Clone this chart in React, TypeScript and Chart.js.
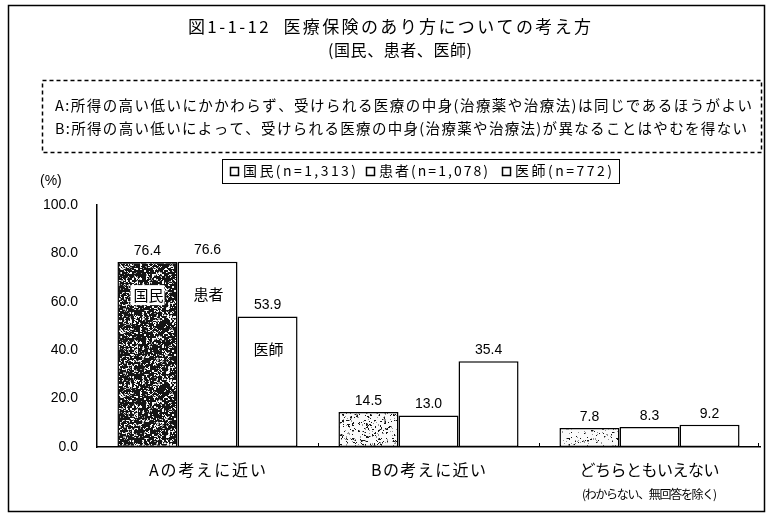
import React, { useEffect, useRef } from "react";
import { Chart, registerables } from "chart.js";

Chart.register(...registerables);

// ---- data ----
const categories = ["Aの考えに近い", "Bの考えに近い", "どちらともいえない"];
const categoryNotes = ["", "", "(わからない、無回答を除く)"];
const seriesNames = ["国民", "患者", "医師"];
const sampleSizes = [1313, 1078, 772];
const kokuminValues = [76.4, 14.5, 7.8];
const kanjaValues = [76.6, 13.0, 8.3];
const ishiValues = [53.9, 35.4, 9.2];
const yTicks = [0, 20, 40, 60, 80, 100];

const titleLines = ["図1-1-12  医療保険のあり方についての考え方", "(国民、患者、医師)"];
const definitionLines = [
  "A:所得の高い低いにかかわらず、受けられる医療の中身(治療薬や治療法)は同じであるほうがよい",
  "B:所得の高い低いによって、受けられる医療の中身(治療薬や治療法)が異なることはやむを得ない",
];

// ---- styling ----
const JP = '"Noto Sans CJK JP", "Noto Sans", sans-serif';
const NUM = '"Liberation Sans", Arial, sans-serif';
const W = 767;
const H = 514;
const categoryLabelWidths = [117, 115, 140];
const noteWidth = 135;

function hash(x: number, y: number, seed: number): number {
  let h = (Math.imul(x, 374761393) + Math.imul(y, 668265263) + Math.imul(seed, 144665)) | 0;
  h = Math.imul(h ^ (h >>> 13), 1274126177);
  h ^= h >>> 16;
  return (h >>> 0) / 4294967296;
}

// speckled print-style fill
function stipple(density: number, seed: number): CanvasPattern | string {
  const size = 64;
  const c = document.createElement("canvas");
  c.width = size;
  c.height = size;
  const g = c.getContext("2d");
  if (!g) return "#888";
  const img = g.createImageData(size, size);
  for (let y = 0; y < size; y++) {
    for (let x = 0; x < size; x++) {
      const fine = hash(x, y, seed);
      const coarse = hash(x >> 1, y >> 1, seed + 11);
      const t = fine * 0.45 + coarse * 0.55;
      const v = t < density ? 20 : t < density + 0.08 ? 150 : 250;
      const i = (y * size + x) * 4;
      img.data[i] = v;
      img.data[i + 1] = v;
      img.data[i + 2] = v;
      img.data[i + 3] = 255;
    }
  }
  g.putImageData(img, 0, 0);
  const p = g.createPattern(c, "repeat");
  return p || "#888";
}

// draws text spread or squeezed to a given width
function fitText(ctx: CanvasRenderingContext2D, text: string, x: number, y: number, width: number, font: string) {
  ctx.font = font;
  ctx.textAlign = "left";
  ctx.textBaseline = "middle";
  const chars = Array.from(text);
  const widths = chars.map((ch) => ctx.measureText(ch).width);
  const total = widths.reduce((a, b) => a + b, 0);
  const gap = chars.length > 1 ? (width - total) / (chars.length - 1) : 0;
  let cx = x;
  chars.forEach((ch, i) => {
    ctx.fillText(ch, cx, y);
    cx += widths[i] + gap;
  });
}

const decorations = {
  id: "decorations",
  afterDraw(chart: any) {
    const ctx: CanvasRenderingContext2D = chart.ctx;
    const { chartArea } = chart;
    const xScale = chart.scales.x;
    ctx.save();
    ctx.fillStyle = "#000";
    ctx.strokeStyle = "#000";

    // outer frame
    ctx.lineWidth = 1.5;
    ctx.setLineDash([]);
    ctx.strokeRect(8.5, 5.5, 756, 506);

    // title
    fitText(ctx, titleLines[0], 188, 27, 403, `17px ${JP}`);
    fitText(ctx, titleLines[1], 328, 50, 144, `16px ${JP}`);

    // definition box
    ctx.lineWidth = 1.5;
    ctx.setLineDash([4, 3]);
    ctx.strokeRect(42.5, 80.5, 719, 72);
    ctx.setLineDash([]);
    fitText(ctx, definitionLines[0], 55, 105, 697, `14.5px ${JP}`);
    fitText(ctx, definitionLines[1], 55, 128, 692, `14.5px ${JP}`);

    // legend
    ctx.lineWidth = 1;
    ctx.strokeRect(222.5, 159.5, 397, 24);
    const legendX = [230, 366, 502];
    const legendW = [113, 109, 97];
    seriesNames.forEach((name, i) => {
      ctx.lineWidth = 1.5;
      ctx.fillStyle = "#fff";
      ctx.fillRect(legendX[i] + 0.5, 167.5, 8, 8);
      ctx.strokeRect(legendX[i] + 0.5, 167.5, 8, 8);
      ctx.fillStyle = "#000";
      const label = `${name}(n=${sampleSizes[i].toLocaleString("en-US")})`;
      fitText(ctx, label, legendX[i] + 13, 171, legendW[i], `14px ${JP}`);
    });

    // unit label
    ctx.font = `14px ${NUM}`;
    ctx.textAlign = "left";
    ctx.textBaseline = "middle";
    ctx.fillText("(%)", 40, 181);

    // category labels
    categories.forEach((cat, i) => {
      const cx = xScale.getPixelForValue(i);
      const w = categoryLabelWidths[i];
      fitText(ctx, cat, cx - w / 2, 470, w, `16px ${JP}`);
      if (categoryNotes[i]) {
        fitText(ctx, categoryNotes[i], cx - noteWidth / 2, 494, noteWidth, `12px ${JP}`);
      }
    });

    // small upward ticks at category boundaries
    ctx.lineWidth = 1;
    for (let i = 0; i < categories.length; i++) {
      const bx = i < categories.length - 1
        ? Math.round((xScale.getPixelForValue(i) + xScale.getPixelForValue(i + 1)) / 2) + 0.5
        : chartArea.right - 1.5;
      ctx.beginPath();
      ctx.moveTo(bx, chartArea.bottom);
      ctx.lineTo(bx, chartArea.bottom - 4);
      ctx.stroke();
    }

    // values above bars, series names inside the first group
    chart.data.datasets.forEach((ds: any, di: number) => {
      const meta = chart.getDatasetMeta(di);
      meta.data.forEach((el: any, i: number) => {
        ctx.fillStyle = "#000";
        ctx.font = `14px ${NUM}`;
        ctx.textAlign = "center";
        ctx.textBaseline = "bottom";
        ctx.fillText(Number(ds.data[i]).toFixed(1), el.x, el.y - 4);
        if (i === 0) {
          const ty = el.y + 33;
          ctx.font = `15px ${JP}`;
          ctx.textBaseline = "middle";
          if (di === 0) {
            ctx.fillStyle = "#fff";
            ctx.fillRect(el.x - 17, ty - 10, 34, 20);
            ctx.fillStyle = "#000";
          }
          ctx.fillText(ds.label, el.x + 1, ty);
        }
      });
    });

    ctx.restore();
  },
};

export default function App() {
  const ref = useRef<HTMLCanvasElement | null>(null);

  useEffect(() => {
    const canvas = ref.current;
    if (!canvas) return;
    const fills = [stipple(0.62, 3), stipple(0.24, 7), stipple(0.16, 9)];
    const barStyle = {
      borderColor: "#000",
      borderWidth: 1.5,
      borderSkipped: false as const,
      categoryPercentage: 0.815,
      barPercentage: 1.0,
    };
    const chart = new Chart(canvas, {
      type: "bar",
      data: {
        labels: categories,
        datasets: [
          { label: seriesNames[0], data: kokuminValues, backgroundColor: fills, ...barStyle },
          { label: seriesNames[1], data: kanjaValues, backgroundColor: "#fff", ...barStyle },
          { label: seriesNames[2], data: ishiValues, backgroundColor: "#fff", ...barStyle },
        ],
      },
      options: {
        responsive: false,
        animation: false,
        devicePixelRatio: 1,
        layout: { padding: { top: 205, left: 0, right: 7, bottom: 0 } },
        plugins: {
          legend: { display: false },
          title: { display: false },
          tooltip: { enabled: false },
        },
        scales: {
          x: {
            grid: { display: false, drawTicks: false },
            border: { display: true, color: "#000", width: 1.5 },
            ticks: { display: false },
            afterFit: (scale: any) => {
              scale.height = 67;
            },
          },
          y: {
            min: 0,
            max: 100,
            afterBuildTicks: (scale: any) => {
              scale.ticks = yTicks.map((v) => ({ value: v }));
            },
            grid: { display: false, drawTicks: false },
            border: { display: true, color: "#000", width: 1.5 },
            ticks: {
              color: "#000",
              font: { family: NUM, size: 14 },
              padding: 19,
              callback: (v: any) => Number(v).toFixed(1),
            },
            afterFit: (scale: any) => {
              scale.width = 97;
            },
          },
        },
      },
      plugins: [decorations],
    });
    return () => chart.destroy();
  }, []);

  return (
    <div style={{ position: "absolute", left: 0, top: 0, width: W, height: H, background: "#fff" }}>
      <canvas ref={ref} width={W} height={H} />
    </div>
  );
}
